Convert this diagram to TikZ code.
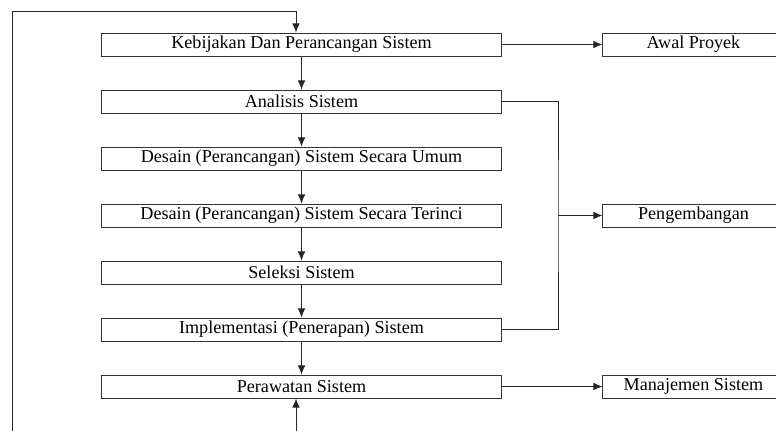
\documentclass[tikz,border=0pt]{standalone}
\usepackage{fontspec}
\setmainfont{Liberation Serif}
\usetikzlibrary{arrows.meta,calc}

\begin{document}
\begin{tikzpicture}[x=0.025cm,y=-0.025cm,
		tahap/.style={draw=black!80,line width=0.7pt,minimum width=9.975cm,minimum height=0.575cm,inner sep=0pt,font=\fontsize{12.9}{15}\selectfont},
		hasil/.style={tahap,minimum width=4.525cm},
		alur/.style={draw=black!85,line width=0.7pt,-{Latex[length=6.5pt,width=5.5pt]}}]
		\clip (0,0) rectangle (776,430);

		% tahapan (kiri)
		\node[tahap] (kebijakan) at (301.5,44.5) {Kebijakan Dan Perancangan Sistem};
		\node[tahap] (analisis) at (301.5,101.5) {Analisis Sistem};
		\node[tahap] (umum) at (301.5,158.5) {Desain (Perancangan) Sistem Secara Umum};
		\node[tahap] (terinci) at (301.5,215.5) {Desain (Perancangan) Sistem Secara Terinci};
		\node[tahap] (seleksi) at (301.5,272.5) {Seleksi Sistem};
		\node[tahap] (implementasi) at (301.5,329.5) {Implementasi (Penerapan) Sistem};
		\node[tahap] (perawatan) at (301.5,386.5) {Perawatan Sistem};

		% hasil (kanan)
		\node[hasil] (awal) at (693.5,44.5) {Awal Proyek};
		\node[hasil] (pengembangan) at (693.5,215.5) {Pengembangan};
		\node[hasil] (manajemen) at (693.5,386.5) {Manajemen Sistem};

		% titik bantu
		\coordinate (cabang) at (558,215.5);
		\coordinate (bawahkiri) at (12,445);
		\coordinate (ataskiri) at (12,11);
		\coordinate (atas) at (296,11);
		\coordinate (bawah) at (296,445);

		% alur utama
		\foreach \a/\b in {kebijakan/analisis,analisis/umum,umum/terinci,terinci/seleksi,seleksi/implementasi,implementasi/perawatan}
			\draw[alur] (\a) -- (\b);

		% ke kanan
		\draw[alur] (kebijakan) -- (awal);
		\draw[draw=black!85,line width=0.7pt] (analisis.east) -| (cabang) |- (implementasi.east);
		\draw[alur] (cabang) -- (pengembangan);
		\draw[alur] (perawatan) -- (manajemen);

		% umpan balik
		\draw[alur] (bawahkiri) -- (ataskiri) -- (atas) -- (atas |- kebijakan.north);
		\draw[alur] (bawah) -- (bawah |- perawatan.south);
	\end{tikzpicture}
\end{document}
